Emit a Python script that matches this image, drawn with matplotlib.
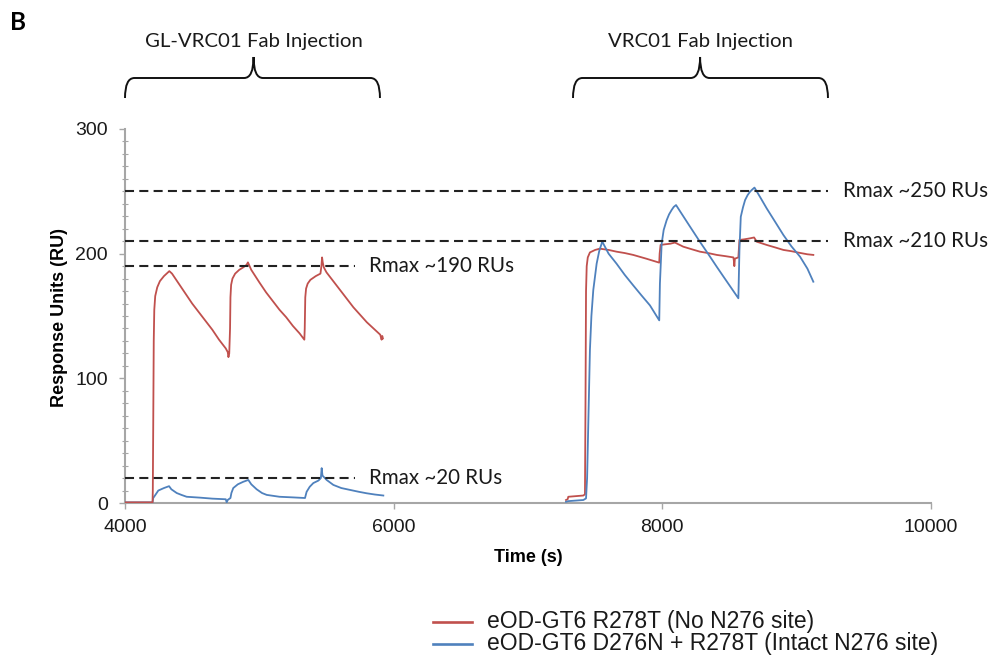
import matplotlib
matplotlib.use('Agg')
import matplotlib.pyplot as plt
from matplotlib.path import Path
from matplotlib.patches import PathPatch
from matplotlib.transforms import blended_transform_factory
from matplotlib.lines import Line2D

plt.rcParams['lines.scale_dashes'] = False

# ---------------- data ----------------
# GL-VRC01 Fab injections, eOD-GT6 R278T (red)
gl_red_t = [4000, 4205, 4207, 4210, 4214, 4218, 4225, 4240, 4260, 4290, 4330,
            4350, 4400, 4450, 4500, 4550, 4600, 4650, 4700, 4750, 4765, 4770, 4776,
            4782, 4785, 4790, 4800, 4820, 4850, 4880, 4905, 4915,
            4940, 5000, 5050, 5100, 5150, 5200, 5250, 5300, 5335,
            5338, 5342, 5348, 5360, 5380, 5420, 5455, 5462, 5467, 5472, 5480,
            5500, 5550, 5600, 5650, 5700, 5750, 5800, 5850, 5900, 5910, 5915, 5920]
gl_red_v = [0.5, 0.5, 10, 60, 130, 155, 166, 173, 178, 182, 186,
            184, 176, 168, 160, 153, 146, 139, 131, 124, 121, 117, 120,
            140, 165, 175, 180, 184, 187, 189, 191, 193,
            187, 177, 169, 162, 155, 149, 142, 136, 131,
            140, 165, 172, 176, 179, 182, 184, 190, 197, 193, 189,
            185, 178, 171, 164, 157, 151, 145, 140, 135, 131, 134, 132]

# GL-VRC01 Fab injections, eOD-GT6 D276N + R278T (blue)
gl_blue_t = [4000, 4205, 4210, 4223, 4248, 4290, 4328, 4345, 4385, 4420, 4459,
             4558, 4650, 4750, 4757, 4765, 4785, 4792, 4806, 4840, 4880, 4918,
             4940, 4980, 5020, 5055, 5150, 5250, 5340, 5352, 5375, 5402, 5440,
             5458, 5464, 5470, 5501, 5551, 5610, 5675, 5740, 5799, 5860, 5923]
gl_blue_v = [0.5, 0.5, 4, 6, 10, 12, 13.5, 11, 8, 6.5, 5,
             4.3, 3.5, 3, 0.5, 2.5, 4, 8, 12, 15, 17, 18.5,
             15, 11, 8, 6.5, 5, 4.5, 4, 9, 13, 16, 18,
             20, 28, 22, 18.5, 14.5, 12, 10.5, 9, 7.8, 6.8, 6]

# VRC01 Fab injections, eOD-GT6 R278T (red)
vrc_red_t = [7283, 7295, 7300, 7412, 7424, 7428, 7432, 7437, 7445, 7461, 7500, 7535,
             7600, 7659, 7720, 7783, 7880, 7977,
             7980, 7987, 8020, 8060, 8094, 8156, 8220, 8280, 8340, 8405, 8470, 8529,
             8533, 8536, 8540, 8566, 8574, 8610, 8653, 8683, 8703, 8777, 8840, 8901,
             8960, 9025, 9080, 9124]
vrc_red_v = [2.4, 3, 5, 6, 7, 80, 170, 190, 197, 201, 203, 204,
             203, 201.6, 200.5, 199, 196, 192.8,
             200, 207, 207.5, 208, 208.9, 205.6, 203.5, 201.6, 200.5, 199, 198, 197,
             194, 190, 196, 197, 211, 211.5, 212.3, 213, 209.6, 207, 205, 203,
             202, 200.6, 199.5, 199]

# VRC01 Fab injections, eOD-GT6 D276N + R278T (blue)
vrc_blue_t = [7283, 7300, 7412, 7432, 7440, 7450, 7461, 7472, 7486, 7511, 7530, 7548, 7553,
              7600, 7659, 7720, 7783, 7845, 7908, 7977,
              7982, 7995, 8010, 8032, 8050, 8069, 8085, 8102,
              8150, 8206, 8280, 8355, 8405, 8455, 8510, 8566,
              8574, 8584, 8600, 8616, 8635, 8653, 8670, 8686,
              8730, 8777, 8840, 8901, 8960, 9025, 9080, 9124]
vrc_blue_v = [1, 1.5, 2.4, 3.7, 20, 69, 122.7, 150, 170.8, 192, 202, 208, 209.6,
              200, 192, 183, 174.6, 166.5, 158.5, 146.5,
              176, 208, 219, 226.8, 231.5, 235, 237.5, 239,
              231, 221.7, 209.5, 197.6, 189.5, 181.6, 173, 164.2,
              203, 229.6, 237, 243, 247, 249.7, 251.5, 253,
              245, 236.3, 225.5, 215, 206, 197.6, 188, 177.5]

# Rmax reference lines: value, line end (s), label
rmax_values = [250, 210, 190, 20]
rmax_ends = [9233, 9233, 5712, 5712]
rmax_labels = ['Rmax ~250 RUs', 'Rmax ~210 RUs', 'Rmax ~190 RUs', 'Rmax ~20 RUs']
rmax_label_x = [9345, 9345, 5816, 5816]

# injection windows (brace start, tip, end) and captions
injections = [(4000, 4957, 5898), (7335, 8281, 9233)]
injection_labels = ['GL-VRC01 Fab Injection', 'VRC01 Fab Injection']

series_labels = ['eOD-GT6 R278T (No N276 site)',
                 'eOD-GT6 D276N + R278T (Intact N276 site)']

x_ticks = [4000, 6000, 8000, 10000]
y_ticks = [0, 100, 200, 300]

# ---------------- figure ----------------
RED = '#c0504d'
BLUE = '#4f81bd'
GRAY = '#a6a6a6'
W, H = 994, 663
fig = plt.figure(figsize=(W / 100, H / 100), dpi=100)
ax = fig.add_axes([125 / W, 1 - 503 / H, (931 - 125) / W, (503 - 129) / H])

ax.plot(gl_blue_t, gl_blue_v, color=BLUE, lw=1.3, zorder=3)
ax.plot(vrc_blue_t, vrc_blue_v, color=BLUE, lw=1.3, zorder=3)
ax.plot(gl_red_t, gl_red_v, color=RED, lw=1.3, zorder=4)
ax.plot(vrc_red_t, vrc_red_v, color=RED, lw=1.3, zorder=2)

for v, xe, lab, lx in zip(rmax_values, rmax_ends, rmax_labels, rmax_label_x):
    ax.plot([x_ticks[0], xe], [v, v], color='#222222', lw=1.5,
            linestyle=(0, (6.5, 3.8)), zorder=5)
    ax.text(lx, v, lab, ha='left', va='center', fontsize=14.8,
            family='Lato', color='#1a1a1a')

ax.set_xlim(x_ticks[0], x_ticks[-1])
ax.set_ylim(y_ticks[0], y_ticks[-1])
ax.set_xticks(x_ticks)
ax.set_yticks(y_ticks)
ax.set_yticks(range(0, 301, 10), minor=True)
for s in ['top', 'right']:
    ax.spines[s].set_visible(False)
for s in ['left', 'bottom']:
    ax.spines[s].set_color(GRAY)
    ax.spines[s].set_linewidth(1.5)
ax.tick_params(axis='both', which='major', colors=GRAY, length=4.5, width=1,
               labelcolor='#1a1a1a', labelsize=14, pad=7)
ax.tick_params(axis='y', which='major', pad=8)
ax.tick_params(axis='y', which='minor', colors=GRAY, length=4, width=0.8,
               direction='inout')
for lbl in ax.get_xticklabels() + ax.get_yticklabels():
    lbl.set_family('Liberation Sans')

fig.text(59 / W, 1 - 317 / H, 'Response Units (RU)', rotation=90, ha='center',
         va='center', fontsize=13, fontweight='bold', family='Liberation Sans')
fig.text(528 / W, 1 - 557 / H, 'Time (s)', ha='center', va='center',
         fontsize=13, fontweight='bold', family='Liberation Sans')

fig.text(10 / W, 1 - 30 / H, 'B', ha='left', va='baseline', fontsize=17.5,
         fontweight='bold', family='Lato')

# braces
tr = blended_transform_factory(ax.transData, fig.transFigure)
yb, yh, yt = 1 - 98 / H, 1 - 78 / H, 1 - 57 / H
r = 70
for (x0, xm, x1), lab in zip(injections, injection_labels):
    verts = [(x0, yb), (x0, yh), (x0 + r, yh),
             (xm - r, yh), (xm, yh), (xm, yt),
             (xm, yh), (xm + r, yh),
             (x1 - r, yh), (x1, yh), (x1, yb)]
    codes = [Path.MOVETO, Path.CURVE3, Path.CURVE3,
             Path.LINETO, Path.CURVE3, Path.CURVE3,
             Path.CURVE3, Path.CURVE3,
             Path.LINETO, Path.CURVE3, Path.CURVE3]
    patch = PathPatch(Path(verts, codes), transform=tr, fill=False,
                      edgecolor='#111111', lw=1.4, clip_on=False)
    fig.add_artist(patch)
    fig.text(xm, 1 - 47 / H, lab, transform=tr, ha='center', va='baseline',
             fontsize=14.7, family='Lato', color='#1a1a1a')

# legend (drawn in figure pixel positions)
for i, (col, lab) in enumerate(zip([RED, BLUE], series_labels)):
    yc = 1 - (622 + 22 * i) / H
    fig.add_artist(Line2D([433 / W, 472 / W], [yc, yc], color=col, lw=1.9,
                          transform=fig.transFigure))
    fig.text(487 / W, 1 - (628 + 22 * i) / H, lab, ha='left', va='baseline',
             fontsize=16.5, family='Liberation Sans', color='#1a1a1a')

fig.savefig('out.png', dpi=100)
